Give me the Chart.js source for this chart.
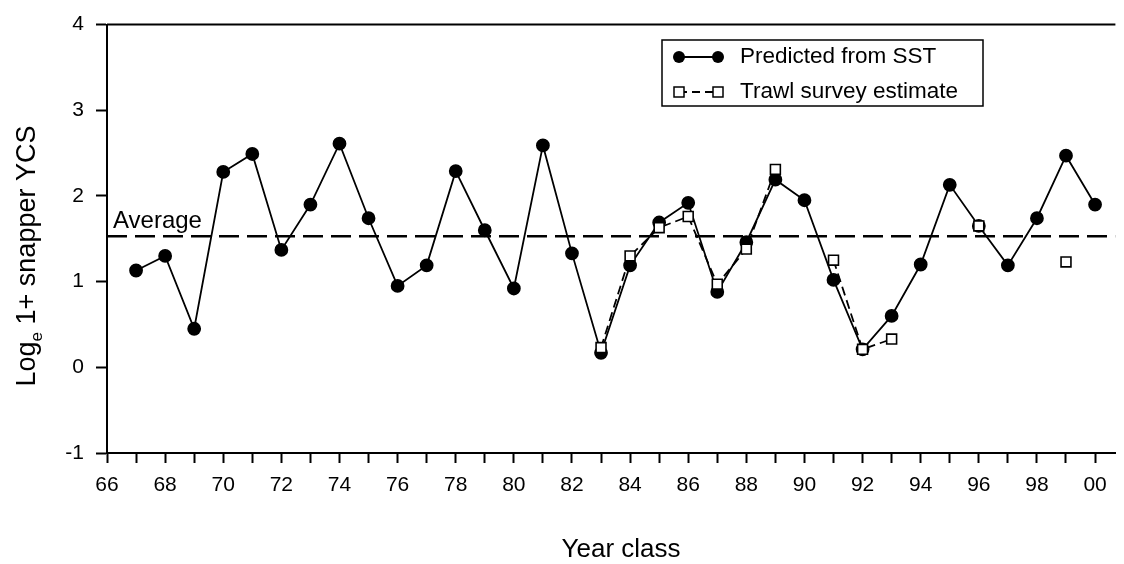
<!DOCTYPE html>
<html>
<head>
<meta charset="utf-8">
<script src="https://cdn.jsdelivr.net/npm/chart.js@4/dist/chart.umd.min.js"></script>
<style>
  html, body { margin: 0; padding: 0; background: #fff; }
  #wrap { width: 1124px; height: 564px; position: relative; }
</style>
</head>
<body>
<div id="wrap"><canvas id="c" width="1124" height="564"></canvas></div>
<script>
// ---- data ----
const years = [67, 68, 69, 70, 71, 72, 73, 74, 75, 76, 77, 78, 79, 80, 81, 82, 83,
               84, 85, 86, 87, 88, 89, 90, 91, 92, 93, 94, 95, 96, 97, 98, 99, 100];
const predictedSST = [1.13, 1.30, 0.45, 2.28, 2.49, 1.37, 1.90, 2.61, 1.74, 0.95, 1.19,
                      2.29, 1.60, 0.92, 2.59, 1.33, 0.17, 1.19, 1.69, 1.92, 0.88, 1.46,
                      2.19, 1.95, 1.02, 0.21, 0.60, 1.20, 2.13, 1.65, 1.19, 1.74, 2.47, 1.90];
const trawlSurvey = [null, null, null, null, null, null, null, null, null, null, null,
                     null, null, null, null, null, 0.23, 1.30, 1.63, 1.76, 0.97, 1.38,
                     2.31, null, 1.25, 0.21, 0.33, null, null, 1.65, null, null, 1.23, null];
const averageValue = 1.53;
const xTickYears = [66, 67, 68, 69, 70, 71, 72, 73, 74, 75, 76, 77, 78, 79, 80, 81, 82, 83,
                    84, 85, 86, 87, 88, 89, 90, 91, 92, 93, 94, 95, 96, 97, 98, 99, 100];
const xLabelYears = [66, 68, 70, 72, 74, 76, 78, 80, 82, 84, 86, 88, 90, 92, 94, 96, 98, 100];
const yTickValues = [-1, 0, 1, 2, 3, 4];
const legendLabels = ['Predicted from SST', 'Trawl survey estimate'];
const xTitle = 'Year class';
const yTitleParts = ['Log', 'e', ' 1+ snapper YCS'];
const averageLabel = 'Average';

const FONT = "'Liberation Sans', Arial, Helvetica, sans-serif";

const predPts = years.map((x, i) => ({ x: x, y: predictedSST[i] }));
const trawlPts = years.map((x, i) => ({ x: x, y: trawlSurvey[i] }));
const avgPts = [{ x: 66, y: averageValue }, { x: 100.7, y: averageValue }];

const decorPlugin = {
  id: 'decor',
  afterDraw(chart) {
    const ctx = chart.ctx;
    const ys = chart.scales.y;
    const ca = chart.chartArea;
    ctx.save();
    // top border line
    ctx.strokeStyle = '#000';
    ctx.lineWidth = 2;
    ctx.beginPath();
    ctx.moveTo(ca.left, ys.getPixelForValue(4));
    ctx.lineTo(ca.right, ys.getPixelForValue(4));
    ctx.stroke();

    // Average label
    ctx.fillStyle = '#000';
    ctx.font = '24px ' + FONT;
    ctx.textAlign = 'left';
    ctx.textBaseline = 'alphabetic';
    ctx.fillText(averageLabel, ca.left + 6, ys.getPixelForValue(averageValue) - 8);

    // X title
    ctx.font = '26px ' + FONT;
    ctx.textAlign = 'center';
    ctx.fillText(xTitle, 621, 557);

    // Y title with subscript
    ctx.save();
    ctx.translate(35, 256);
    ctx.rotate(-Math.PI / 2);
    const big = '27px ' + FONT, small = '17px ' + FONT;
    ctx.font = big; const w0 = ctx.measureText(yTitleParts[0]).width;
    ctx.font = small; const w1 = ctx.measureText(yTitleParts[1]).width;
    ctx.font = big; const w2 = ctx.measureText(yTitleParts[2]).width;
    let sx = -(w0 + w1 + w2) / 2;
    ctx.textAlign = 'left';
    ctx.font = big; ctx.fillText(yTitleParts[0], sx, 0); sx += w0;
    ctx.font = small; ctx.fillText(yTitleParts[1], sx, 7); sx += w1;
    ctx.font = big; ctx.fillText(yTitleParts[2], sx, 0);
    ctx.restore();

    // Legend box
    const bx = 662, by = 40, bw = 321, bh = 66;
    ctx.lineWidth = 1.5;
    ctx.strokeStyle = '#000';
    ctx.fillStyle = '#fff';
    ctx.fillRect(bx, by, bw, bh);
    ctx.strokeRect(bx, by, bw, bh);
    const rows = [57, 92];
    const lx0 = 679, lx1 = 718;
    ctx.lineWidth = 1.8;
    ctx.setLineDash([]);
    ctx.beginPath(); ctx.moveTo(lx0, rows[0]); ctx.lineTo(lx1, rows[0]); ctx.stroke();
    ctx.fillStyle = '#000';
    [lx0, lx1].forEach(px => { ctx.beginPath(); ctx.arc(px, rows[0], 6, 0, Math.PI * 2); ctx.fill(); });
    ctx.setLineDash([8, 5]);
    ctx.beginPath(); ctx.moveTo(lx0, rows[1]); ctx.lineTo(lx1, rows[1]); ctx.stroke();
    ctx.setLineDash([]);
    ctx.lineWidth = 1.5;
    [lx0, lx1].forEach(px => {
      ctx.fillStyle = '#fff';
      ctx.fillRect(px - 5, rows[1] - 5, 10, 10);
      ctx.strokeRect(px - 5, rows[1] - 5, 10, 10);
    });
    ctx.fillStyle = '#000';
    ctx.font = '22.5px ' + FONT;
    ctx.textAlign = 'left';
    ctx.textBaseline = 'middle';
    ctx.fillText(legendLabels[0], 740, rows[0]);
    ctx.fillText(legendLabels[1], 740, rows[1]);
    ctx.restore();
  }
};

new Chart(document.getElementById('c'), {
  type: 'line',
  data: {
    datasets: [
      {
        label: legendLabels[1],
        data: trawlPts,
        order: 0,
        borderColor: '#000',
        borderWidth: 1.8,
        borderDash: [9, 5],
        pointStyle: 'rect',
        pointRadius: 7,
        pointBorderWidth: 1.6,
        pointBackgroundColor: '#fff',
        pointBorderColor: '#000',
        spanGaps: false,
        fill: false,
        tension: 0
      },
      {
        label: legendLabels[0],
        data: predPts,
        order: 1,
        borderColor: '#000',
        borderWidth: 1.8,
        pointStyle: 'circle',
        pointRadius: 6,
        pointBackgroundColor: '#000',
        pointBorderColor: '#000',
        fill: false,
        tension: 0
      },
      {
        label: averageLabel,
        data: avgPts,
        order: 2,
        borderColor: '#000',
        borderWidth: 2.5,
        borderDash: [20, 8],
        pointRadius: 0,
        fill: false
      }
    ]
  },
  options: {
    responsive: false,
    animation: false,
    events: [],
    layout: { padding: { left: 0, top: 20, right: 1, bottom: 0 } },
    plugins: { legend: { display: false }, tooltip: { enabled: false }, title: { display: false } },
    scales: {
      x: {
        type: 'linear',
        min: 66,
        max: 100.7,
        afterFit(s) { s.height = 111; },
        afterBuildTicks(s) {
          s.ticks = xTickYears.map(v => ({ value: v }));
        },
        ticks: {
          autoSkip: false,
          maxRotation: 0,
          color: '#000',
          padding: 10,
          font: { family: FONT, size: 21 },
          callback(v) {
            return xLabelYears.includes(v) ? String(v % 100).padStart(2, '0') : '';
          }
        },
        grid: { drawOnChartArea: false, drawTicks: true, tickLength: 10, tickWidth: 2, tickColor: '#000' },
        border: { display: true, color: '#000', width: 2 }
      },
      y: {
        type: 'linear',
        min: -1,
        max: 4,
        afterFit(s) { s.width = 107; },
        afterBuildTicks(s) {
          s.ticks = yTickValues.map(v => ({ value: v }));
        },
        ticks: {
          color: '#000',
          padding: 12,
          font: { family: FONT, size: 21 },
          callback(v) { return String(v); }
        },
        grid: { drawOnChartArea: false, drawTicks: true, tickLength: 11, tickWidth: 2, tickColor: '#000' },
        border: { display: true, color: '#000', width: 2 }
      }
    }
  },
  plugins: [decorPlugin]
});
</script>
</body>
</html>
